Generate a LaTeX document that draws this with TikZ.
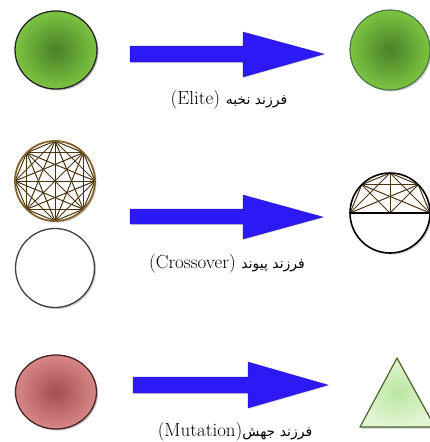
\documentclass[tikz,border=0pt]{standalone}
\usepackage{fontspec}
\newfontfamily\arabicfont[Script=Arabic]{DejaVu Sans}
\TeXXeTstate=1
\usetikzlibrary{shadows,calc}
\definecolor{arrowblue}{RGB}{45,25,245}
\definecolor{gin}{RGB}{70,130,40}
\definecolor{gout}{RGB}{125,195,65}
\definecolor{rin}{RGB}{160,80,80}
\definecolor{rout}{RGB}{215,135,135}
\definecolor{tin}{RGB}{185,230,160}
\definecolor{tout}{RGB}{225,245,210}
\definecolor{tborder}{RGB}{75,100,45}
\definecolor{edgebrown}{RGB}{75,52,18}
\definecolor{rimgold}{RGB}{130,100,40}
\tikzset{
  blockarrow/.style={fill=arrowblue, draw=arrowblue!70!black, line width=0.3pt,
    drop shadow={opacity=0.25, shadow xshift=1pt, shadow yshift=-1pt}},
  lbl/.style={inner sep=0pt, font=\fontsize{19}{22}\selectfont},
  fa/.style={},
  graphedge/.style={draw=edgebrown, line width=1.0pt}
}
\newcommand{\fatext}[1]{{\arabicfont\fontsize{14}{17}\selectfont\beginR #1\endR}}
\begin{document}
\begin{tikzpicture}[x=1pt,y=-1pt]
\useasboundingbox (0,0) rectangle (430,442);
\fill[white] (0,0) rectangle (430,442);
\clip (0,0) rectangle (430,442);

% ---------- Row 1: Elite ----------
\fill[black!25] (57.5,51.5) ellipse (41 and 39);
\shade[inner color=gin, outer color=gout] (56,50) ellipse (41 and 39);
\draw[line width=1.3pt, black!85] (56,50) ellipse (41 and 39);
\coordinate (e1) at (56,50);

\fill[black!20] (391.5,51.5) circle (40);
\shade[inner color=gin, outer color=gout] (390,50) circle (40);
\draw[line width=1.2pt, black!60!green!40!gray] (390,50) circle (40);
\coordinate (e2) at (390,50);

\filldraw[blockarrow] (130,46) -- (243,46) -- (243,32) -- (324,54) -- (243,77) -- (243,62) -- (130,62) -- cycle;
\node[lbl] (l1) at (229,100) {(Elite) \fatext{فرزند نخبه}};

% ---------- Row 2: Crossover ----------
\coordinate (k) at (55,181);
\fill[black!20] (56.5,182.5) circle (40);
\fill[white] (k) circle (40);
\foreach \i in {0,...,7}{
  \coordinate (v\i) at ($(k)+(90+45*\i:40)$);
}
\foreach \i in {0,...,7}{
  \foreach \j in {0,...,7}{
    \ifnum\i<\j
      \draw[graphedge] (v\i) -- (v\j);
    \fi
  }
}
\draw[line width=1.8pt, rimgold] (k) circle (40);

\fill[black!20] (56.5,269.5) circle (39.5);
\fill[white] (55,268) circle (39.5);
\draw[line width=1.3pt, black!75] (55,268) circle (39.5);
\coordinate (w) at (55,268);

\filldraw[blockarrow] (130,209) -- (243,209) -- (243,195) -- (323,217) -- (243,239) -- (243,224) -- (130,224) -- cycle;
\node[lbl] (l2) at (227,264) {(Crossover) \fatext{فرزند پیوند}};

\coordinate (h) at (390,213);
\fill[black!20] (391.5,214.5) circle (40);
\fill[white] (h) circle (40);
\coordinate (hL) at ($(h)+(-40,0)$);
\coordinate (hTL) at ($(h)+(-28.28,-28.28)$);
\coordinate (hT) at ($(h)+(0,-40)$);
\coordinate (hTR) at ($(h)+(28.28,-28.28)$);
\coordinate (hR) at ($(h)+(40,0)$);
\foreach \a/\b in {hL/hTL,hL/hT,hL/hTR,hTL/hT,hTL/hTR,hTL/hR,hTL/h,hT/hTR,hT/hR,hT/h,hTR/hR,hTR/h}{
  \draw[graphedge] (\a) -- (\b);
}
\draw[line width=1.1pt, black] (hL) -- (hR);
\draw[line width=1.6pt, black] (h) circle (40);

% ---------- Row 3: Mutation ----------
\fill[black!22] (57.5,393.5) ellipse (40.5 and 37);
\shade[inner color=rin, outer color=rout] (56,392) ellipse (40.5 and 37);
\draw[line width=1.3pt, rin!45!black] (56,392) ellipse (40.5 and 37);
\coordinate (m1) at (56,392);

\filldraw[blockarrow] (133,377) -- (248,377) -- (248,362) -- (328,385) -- (248,408) -- (248,393) -- (133,393) -- cycle;
\node[lbl] (l3) at (235,432) {(Mutation)\fatext{فرزند جهش}};

\fill[black!20] (398.5,359.5) -- (436.5,428.5) -- (361.5,428.5) -- cycle;
\shade[inner color=tin, outer color=tout] (397,358) -- (435,427) -- (360,427) -- cycle;
\draw[line width=1.2pt, tborder, line join=round] (397,358) -- (435,427) -- (360,427) -- cycle;
\coordinate (m2) at (397,400);
\end{tikzpicture}
\end{document}
